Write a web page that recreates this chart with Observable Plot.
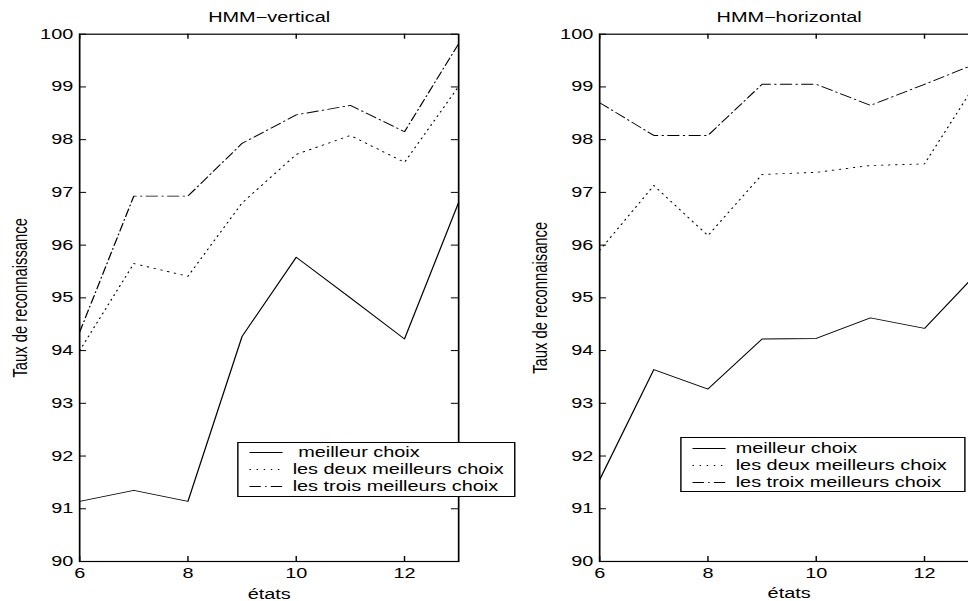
<!DOCTYPE html>
<html>
<head>
<meta charset="utf-8">
<script src="https://cdn.jsdelivr.net/npm/d3@7"></script>
<script src="https://cdn.jsdelivr.net/npm/@observablehq/plot@0.6"></script>
<style>
  html, body { margin: 0; padding: 0; background: #fff; overflow: hidden; width: 968px; height: 601px; }
  #stage { position: relative; width: 682px; height: 601px; transform: scale(1.42, 1); transform-origin: 0 0; font-family: "Liberation Sans", Arial, Helvetica, sans-serif; }
  .panel { position: absolute; top: 0; }
  .panel svg { max-width: none !important; }
  .legend { position: absolute; background: #fff; border: 1.2px solid #000; box-sizing: border-box; }
  .legend .row { position: absolute; left: 0; height: 17px; font-size: 14px; line-height: 17px; white-space: pre; color: #000; }
  .legend svg { position: absolute; top: 0; }
</style>
</head>
<body>
<div id="stage"></div>
<script>
// ---- data ----
const etats = [6, 7, 8, 9, 10, 11, 12, 13];
const xTicks = [6, 8, 10, 12];
const yTicks = [90, 91, 92, 93, 94, 95, 96, 97, 98, 99, 100];

const seriesNames = ["meilleur choix", "les deux meilleurs choix", "les trois meilleurs choix"];

// HMM-vertical
const vertMeilleur = [91.14, 91.35, 91.14, 94.27, 95.77, 95.00, 94.22, 96.81];
const vertDeux     = [94.00, 95.65, 95.41, 96.80, 97.72, 98.08, 97.57, 99.01];
const vertTrois    = [94.35, 96.93, 96.93, 97.93, 98.47, 98.65, 98.15, 99.82];

// HMM-horizontal
const horizMeilleur = [91.55, 93.64, 93.27, 94.22, 94.23, 94.62, 94.42, 95.50];
const horizDeux     = [95.90, 97.13, 96.18, 97.34, 97.38, 97.51, 97.54, 99.15];
const horizTrois    = [98.70, 98.08, 98.08, 99.05, 99.05, 98.65, 99.05, 99.46];

const leftLegendLabels  = [" meilleur choix", "les deux meilleurs choix", "les trois meilleurs choix"];
const rightLegendLabels = ["meilleur choix", "les deux meilleurs choix", "les troix meilleurs choix"];

// ---- styling ----
const dashes = [null, "1,4", "8,3,1,3"];
const H = 601, MT = 33.7, MB = 40;
const FONT = '"Liberation Sans", Arial, Helvetica, sans-serif';

function panel({width, marginLeft, marginRight, title, ylabel, values}) {
  const plotW = width - marginLeft - marginRight;
  const plotH = H - MT - MB;
  const rows = [];
  values.forEach((vals, s) => etats.forEach((x, i) => rows.push({serie: seriesNames[s], s, x, y: vals[i]})));
  return Plot.plot({
    width, height: H,
    marginTop: MT, marginBottom: MB, marginLeft, marginRight,
    style: {fontFamily: FONT, fontSize: "14px", color: "#000", background: "transparent", overflow: "visible", maxWidth: "none"},
    x: {domain: [6, 13]},
    y: {domain: [90, 100]},
    marks: [
      ...values.map((vals, s) => Plot.line(rows.filter(r => r.s === s), {
        x: "x", y: "y", stroke: "#000", strokeWidth: 0.9,
        strokeDasharray: dashes[s] ?? undefined
      })),
      Plot.tickX(xTicks, {x: d => d, insetTop: plotH - 5, stroke: "#000"}),
      Plot.tickX(xTicks, {x: d => d, insetBottom: plotH - 5, stroke: "#000"}),
      Plot.tickY(yTicks, {y: d => d, insetRight: plotW - 5, stroke: "#000"}),
      Plot.tickY(yTicks, {y: d => d, insetLeft: plotW - 5, stroke: "#000"}),
      Plot.frame({stroke: "#000", strokeWidth: 1.2}),
      Plot.axisX({ticks: xTicks, tickFormat: d => String(d), tickSize: 0, tickPadding: 7, fontSize: 14,
        label: "états", labelAnchor: "center", labelOffset: 37, labelArrow: "none"}),
      Plot.axisY({ticks: yTicks, tickFormat: d => String(d), tickSize: 0, tickPadding: 4.5, fontSize: 14, label: null}),
      Plot.axisY({ticks: [], tickSize: 0, fontSize: 14.8,
        label: ylabel, labelAnchor: "center", labelOffset: 47.4, labelArrow: "none"}),
      Plot.text([title], {text: d => d, frameAnchor: "top", dy: -12, lineAnchor: "bottom", fontSize: 14, fill: "#000"})
    ]
  });
}

const stage = document.getElementById("stage");

function place(node, left, width) {
  const d = document.createElement("div");
  d.className = "panel";
  d.style.left = left + "px";
  d.style.width = width + "px";
  d.appendChild(node);
  stage.appendChild(d);
}

place(panel({
  width: 380, marginLeft: 55.6, marginRight: 57.5,
  title: "HMM\u2212vertical", ylabel: "Taux de reconnaissance",
  values: [vertMeilleur, vertDeux, vertTrois]
}), 0, 380);

place(panel({
  width: 348.7, marginLeft: 61.8, marginRight: 20,
  title: "HMM\u2212horizontal", ylabel: "Taux de reconnaisance",
  values: [horizMeilleur, horizDeux, horizTrois]
}), 360, 348.7);

function legend({left, top, width, height, firstRow, labels}) {
  const box = document.createElement("div");
  box.className = "legend";
  Object.assign(box.style, {left: left + "px", top: top + "px", width: width + "px", height: height + "px"});
  labels.forEach((lab, i) => {
    const cy = firstRow + i * 17;
    const row = document.createElement("div");
    row.className = "row";
    row.style.top = (cy - 8.5) + "px";
    row.style.width = width + "px";
    const svg = d3.create("svg").attr("width", 40).attr("height", 17).style("left", "0px");
    svg.append("line").attr("x1", 7.7).attr("x2", 31).attr("y1", 8.5).attr("y2", 8.5)
      .attr("stroke", "#000").attr("stroke-width", 0.9)
      .attr("stroke-dasharray", dashes[i]);
    row.appendChild(svg.node());
    const t = document.createElement("span");
    t.textContent = lab;
    t.style.position = "absolute";
    t.style.left = "38.2px";
    row.appendChild(t);
    box.appendChild(row);
  });
  stage.appendChild(box);
}

legend({left: 166.9, top: 441.7, width: 196.5, height: 55, firstRow: 10.3, labels: leftLegendLabels});
legend({left: 478.9, top: 436.7, width: 200.7, height: 55.3, firstRow: 11, labels: rightLegendLabels});
</script>
</body>
</html>
